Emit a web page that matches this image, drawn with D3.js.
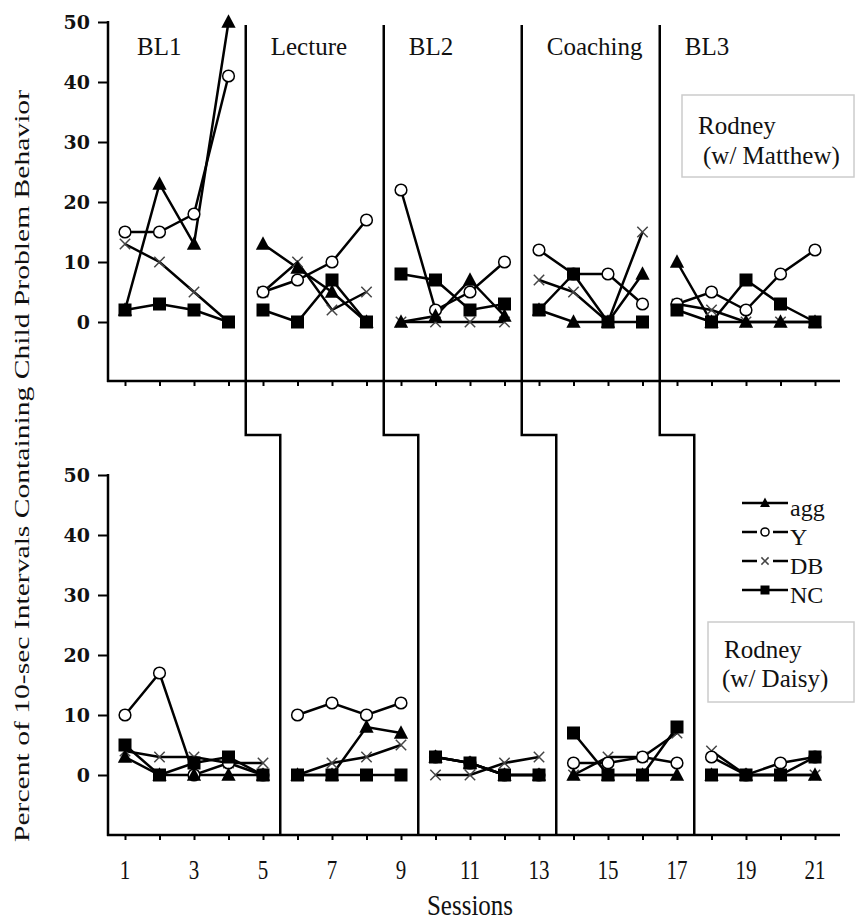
<!DOCTYPE html>
<html>
<head>
<meta charset="utf-8">
<script src="https://cdn.jsdelivr.net/npm/d3@7"></script>
<style>
  body { margin: 0; background: #fff; }
  svg text { font-family: "Liberation Serif", "Times New Roman", Times, serif; fill: #111; }
</style>
</head>
<body>
<svg id="chart"></svg>
<script>
// sessions and phases
const sessions = d3.range(1, 22);
const phaseNames = ["BL1", "Lecture", "BL2", "Coaching", "BL3"];
const topPhaseSessions = [[1, 2, 3, 4], [5, 6, 7, 8], [9, 10, 11, 12], [13, 14, 15, 16], [17, 18, 19, 20, 21]];
const bottomPhaseSessions = [[1, 2, 3, 4, 5], [6, 7, 8, 9], [10, 11, 12, 13], [14, 15, 16, 17], [18, 19, 20, 21]];
const topBreaks = [4.5, 8.5, 12.5, 16.5];
const bottomBreaks = [5.5, 9.5, 13.5, 17.5];
const yTicks = [0, 10, 20, 30, 40, 50];

// Rodney (w/ Matthew)
const topAgg = [[2, 23, 13, 50], [13, 9, 5, 0], [0, 1, 7, 1], [2, 0, 0, 8], [10, 0, 0, 0, 0]];
const topY = [[15, 15, 18, 41], [5, 7, 10, 17], [22, 2, 5, 10], [12, 8, 8, 3], [3, 5, 2, 8, 12]];
const topDB = [[13, 10, 5, 0], [5, 10, 2, 5], [0, 0, 0, 0], [7, 5, 0, 15], [3, 2, 0, 0, 0]];
const topNC = [[2, 3, 2, 0], [2, 0, 7, 0], [8, 7, 2, 3], [2, 8, 0, 0], [2, 0, 7, 3, 0]];

// Rodney (w/ Daisy)
const bottomAgg = [[3, 0, 0, 0, 0], [0, 0, 8, 7], [3, 2, 0, 0], [0, 0, 0, 0], [0, 0, 0, 0]];
const bottomY = [[10, 17, 0, 2, 0], [10, 12, 10, 12], [3, 2, 0, 0], [2, 2, 3, 2], [3, 0, 2, 3]];
const bottomDB = [[4, 3, 3, 2, 2], [0, 2, 3, 5], [0, 0, 2, 3], [0, 3, 3, 7], [4, 0, 0, 0]];
const bottomNC = [[5, 0, 2, 3, 0], [0, 0, 0, 0], [3, 2, 0, 0], [7, 0, 0, 8], [0, 0, 0, 3]];

const legendNames = ["agg", "Y", "DB", "NC"];

const width = 856, height = 923;
const svg = d3.select("#chart").attr("width", width).attr("height", height);
const serif = "'Liberation Serif', 'Times New Roman', serif";

const x = d3.scaleLinear().domain([1, 21]).range([125, 815]);
const axisLeftX = 108, axisRightX = 840;

const panels = [
  { y: d3.scaleLinear().domain([0, 50]).range([322, 22]), base: 381, phases: topPhaseSessions,
    series: { agg: topAgg, Y: topY, DB: topDB, NC: topNC }, labels: false },
  { y: d3.scaleLinear().domain([0, 50]).range([775, 475]), base: 835, phases: bottomPhaseSessions,
    series: { agg: bottomAgg, Y: bottomY, DB: bottomDB, NC: bottomNC }, labels: true }
];

function marker(g, shape, cx, cy, s) {
  if (shape === "agg") {
    g.append("path").attr("d", `M${cx},${cy - s * 0.6}L${cx + s * 0.55},${cy + s * 0.45}L${cx - s * 0.55},${cy + s * 0.45}Z`)
      .attr("fill", "#000");
  } else if (shape === "Y") {
    g.append("circle").attr("cx", cx).attr("cy", cy).attr("r", s * 0.45)
      .attr("fill", "#fff").attr("stroke", "#000").attr("stroke-width", 1.5);
  } else if (shape === "DB") {
    const h = s * 0.4;
    g.append("path").attr("d", `M${cx - h},${cy - h}L${cx + h},${cy + h}M${cx - h},${cy + h}L${cx + h},${cy - h}`)
      .attr("stroke", "#444").attr("stroke-width", 1.5).attr("fill", "none");
  } else {
    g.append("rect").attr("x", cx - s / 2).attr("y", cy - s / 2).attr("width", s).attr("height", s).attr("fill", "#000");
  }
}

panels.forEach(p => {
  const g = svg.append("g");
  // y axis
  g.append("line").attr("x1", axisLeftX).attr("x2", axisLeftX).attr("y1", p.y(50) - 1).attr("y2", p.base + 1)
    .attr("stroke", "#000").attr("stroke-width", 2.5);
  const yAxis = g.append("g").attr("transform", `translate(${axisLeftX},0)`)
    .call(d3.axisLeft(p.y).tickValues(yTicks).tickSize(10).tickPadding(8));
  yAxis.select(".domain").remove();
  yAxis.selectAll(".tick line").attr("stroke", "#000").attr("stroke-width", 2);
  yAxis.selectAll(".tick text").style("font-family", "'DejaVu Serif', serif").style("font-weight", "bold")
    .style("font-size", "19px").attr("fill", "#111");

  // x axis
  g.append("line").attr("x1", axisLeftX - 1).attr("x2", axisRightX).attr("y1", p.base).attr("y2", p.base)
    .attr("stroke", "#000").attr("stroke-width", 2.5);
  const xAxis = g.append("g").attr("transform", `translate(0,${p.base})`)
    .call(d3.axisBottom(x).tickValues(sessions).tickSize(5).tickFormat(""));
  xAxis.select(".domain").remove();
  xAxis.selectAll(".tick line").attr("stroke", "#000").attr("stroke-width", 2);

  if (p.labels) {
    sessions.filter(s => s % 2 === 1).forEach(s => {
      g.append("text").attr("transform", `translate(${x(s)},${p.base + 44}) scale(1,1.3)`)
        .attr("text-anchor", "middle").style("font-family", serif).style("font-size", "21px").text(s);
    });
  }

  // lines, then markers on top
  const line = d3.line().x(d => x(d[0])).y(d => p.y(d[1]));
  const order = ["DB", "Y", "agg", "NC"];
  p.phases.forEach((ss, i) => {
    order.forEach(name => {
      const pts = ss.map((s, j) => [s, p.series[name][i][j]]);
      g.append("path").attr("d", line(pts)).attr("fill", "none").attr("stroke", "#000").attr("stroke-width", 2.5);
    });
  });
  p.phases.forEach((ss, i) => {
    order.forEach(name => {
      ss.forEach((s, j) => marker(g, name, x(s), p.y(p.series[name][i][j]), 13));
    });
  });
});

// phase change lines
topBreaks.forEach((b, i) => {
  const xb = x(b), xt = x(bottomBreaks[i]);
  svg.append("path").attr("d", `M${xb},25V435H${xt}V835`).attr("fill", "none")
    .attr("stroke", "#000").attr("stroke-width", 2.5);
});

// phase labels
const labelX = [137].concat(topBreaks.map(b => x(b) + 25));
phaseNames.forEach((n, i) => {
  svg.append("text").attr("x", labelX[i]).attr("y", 55).style("font-family", serif).style("font-size", "25px").text(n);
});

// panel name boxes
function nameBox(bx, by, bw, bh, lines) {
  svg.append("rect").attr("x", bx).attr("y", by).attr("width", bw).attr("height", bh)
    .attr("fill", "#fff").attr("stroke", "#ccc").attr("stroke-width", 1.5);
  lines.forEach(l => svg.append("text").attr("x", l[0]).attr("y", l[1])
    .style("font-family", serif).style("font-size", "25px").text(l[2]));
}
nameBox(682, 95, 172, 82, [[698, 134, "Rodney"], [703, 164, "(w/ Matthew)"]]);
nameBox(708, 622, 146, 80, [[724, 658, "Rodney"], [722, 687, "(w/ Daisy)"]]);

// series legend
const legY = d3.scalePoint().domain(legendNames).range([503, 590]);
legendNames.forEach(n => {
  const ly = legY(n);
  const lg = svg.append("g");
  lg.append("line").attr("x1", 742).attr("x2", 788).attr("y1", ly).attr("y2", ly)
    .attr("stroke", "#000").attr("stroke-width", 2.5);
  if (n === "DB" || n === "Y") {
    lg.append("rect").attr("x", 757).attr("y", ly - 6).attr("width", 16).attr("height", 12).attr("fill", "#fff");
  }
  marker(lg, n, 765, ly, 9);
  lg.append("text").attr("x", 790).attr("y", ly + 13).style("font-family", serif).style("font-size", "24px").text(n);
});

// axis titles
svg.append("text").attr("transform", "translate(29,466) rotate(-90)").attr("text-anchor", "middle")
  .attr("textLength", 752).attr("lengthAdjust", "spacingAndGlyphs")
  .style("font-family", serif).style("font-size", "22px")
  .text("Percent of 10-sec Intervals Containing Child Problem Behavior");
svg.append("text").attr("transform", "translate(470,915) scale(1,1.15)").attr("text-anchor", "middle")
  .style("font-family", serif).style("font-size", "25px").text("Sessions");
</script>
</body>
</html>
